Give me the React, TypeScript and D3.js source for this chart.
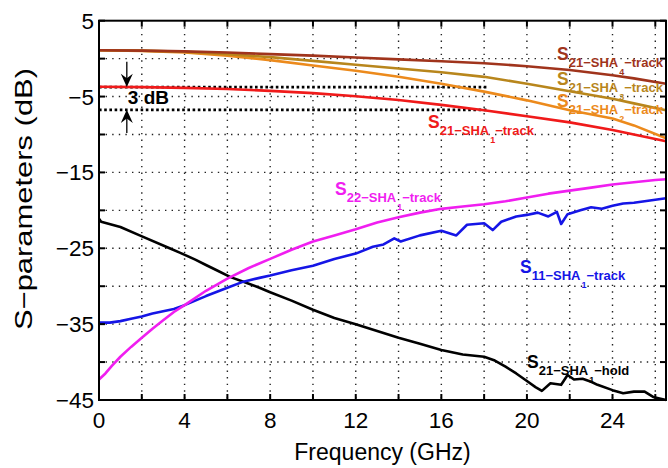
import React from "react";
import * as d3 from "d3";

// ---------- data ----------
const fUpper = [0, 2, 4, 6, 8, 10, 12, 14, 16, 18, 20, 22, 24, 25, 26.5];
const s21Sha4 = [1.1, 1.05, 0.95, 0.8, 0.6, 0.4, 0.15, -0.1, -0.35, -0.6, -1.0, -1.5, -2.2, -2.6, -3.3];
const s21Sha3 = [1.1, 1.05, 0.9, 0.6, 0.2, -0.3, -0.8, -1.3, -1.8, -2.4, -3.3, -4.3, -5.3, -5.9, -6.8];
const s21Sha2 = [1.1, 1.0, 0.8, 0.4, -0.2, -0.9, -1.6, -2.4, -3.3, -4.35, -5.5, -6.8, -7.9, -8.8, -10.5];
const s21Sha1 = [-3.7, -3.75, -3.85, -4.0, -4.25, -4.55, -4.95, -5.45, -6.1, -6.8, -7.6, -8.4, -9.4, -10.0, -10.9];

const fS22 = [0, 0.3, 0.6, 1, 1.5, 2, 2.5, 3, 3.5, 4, 5, 6, 7, 8, 9, 10, 11, 12, 13, 14, 15, 16, 17, 18, 19, 20, 21, 22, 23, 24, 25, 26, 26.5];
const s22Sha1 = [-42.3, -41.5, -40.5, -39.3, -38.0, -36.8, -35.6, -34.5, -33.4, -32.5, -30.6, -29.0, -27.6, -26.4, -25.2, -24.1, -23.3, -22.5, -21.6, -20.9, -20.3, -19.8, -19.5, -19.2, -18.8, -18.3, -17.8, -17.4, -17.0, -16.6, -16.3, -16.0, -15.9];

const fS11 = [0, 0.5, 1, 1.5, 2, 2.5, 3, 3.5, 4, 5, 6, 6.75, 7.5, 8, 9, 10, 11, 12, 12.8, 13.3, 13.8, 14.1, 15, 16, 16.7, 17.2, 18, 18.4, 18.8, 19.5, 20, 20.5, 21, 21.4, 21.6, 21.9, 22.5, 23, 23.5, 24, 24.5, 25, 25.5, 26, 26.5];
const s11Sha1 = [-34.8, -34.8, -34.6, -34.3, -34.0, -33.6, -33.3, -33.0, -32.5, -31.3, -30.2, -29.4, -28.9, -28.6, -27.9, -27.3, -26.4, -25.7, -24.8, -24.5, -23.7, -24.1, -23.3, -22.7, -23.3, -21.9, -21.7, -22.6, -21.5, -20.8, -20.6, -20.3, -20.8, -20.2, -21.8, -20.5, -20.0, -19.6, -19.8, -19.4, -19.1, -19.0, -18.8, -18.6, -18.4];

const fHold = [0, 0.1, 1, 1.9, 3.3, 3.8, 4.5, 5, 5.5, 6.15, 6.75, 7.5, 8, 9, 10, 11, 12, 14, 15, 16, 17, 18, 18.5, 19, 19.5, 20, 20.4, 20.7, 21.1, 21.6, 21.9, 22.2, 22.6, 23, 23.3, 24, 24.5, 25, 25.5, 25.9, 26.2, 26.5];
const s21Hold = [-21.1, -21.5, -22.2, -23.3, -25.0, -25.6, -26.5, -27.2, -27.9, -28.8, -29.4, -30.2, -30.8, -31.9, -33.1, -34.2, -35.0, -36.8, -37.6, -38.4, -39.0, -39.3, -39.8, -40.6, -41.5, -42.5, -43.3, -43.8, -42.8, -43.0, -41.7, -42.3, -42.2, -42.6, -43.0, -43.7, -44.1, -43.9, -43.9, -44.6, -44.8, -45.0];

const xTickLabels = [0, 4, 8, 12, 16, 20, 24];
const yTickLabels = [5, -5, -15, -25, -35, -45];
const xGrid = [2, 4, 6, 8, 10, 12, 14, 16, 18, 20, 22, 24, 26];
const yGrid = [0, -5, -10, -15, -20, -25, -30, -35, -40];
const xTicks = [0, 2, 4, 6, 8, 10, 12, 14, 16, 18, 20, 22, 24, 26];
const yTicks = [5, 0, -5, -10, -15, -20, -25, -30, -35, -40, -45];
const threeDbLevels = [-3.75, -6.75];

const W = 668;
const H = 468;

type Series = { f: number[]; v: number[]; color: string };
const series: Series[] = [
  { f: fHold, v: s21Hold, color: "#000000" },
  { f: fS11, v: s11Sha1, color: "#1515e6" },
  { f: fS22, v: s22Sha1, color: "#f01ef0" },
  { f: fUpper, v: s21Sha1, color: "#f01a1a" },
  { f: fUpper, v: s21Sha2, color: "#ec8a1c" },
  { f: fUpper, v: s21Sha3, color: "#b8861c" },
  { f: fUpper, v: s21Sha4, color: "#a0341c" },
];

function Label({ x, y, main, sub, subsub, tail, color }: any) {
  return (
    <text x={x} y={y} fill={color} fontFamily="Liberation Sans, Arial, sans-serif" fontWeight="bold">
      <tspan fontSize={17.5}>{main}</tspan>
      <tspan fontSize={13} dy={7}>{sub}</tspan>
      <tspan fontSize={9} dy={8} dx={1}>{subsub}</tspan>
      <tspan fontSize={13} dy={-8}>{tail}</tspan>
    </text>
  );
}

export default function App() {
  const x = d3.scaleLinear().domain([0, 26.5]).range([99, 666]);
  const y = d3.scaleLinear().domain([-45, 5]).range([400, 20.7]);
  const line = d3
    .line<[number, number]>()
    .x((d) => x(d[0]))
    .y((d) => y(d[1]));

  const x0 = x(0), x1 = x(26.5), y0 = y(-45), y1 = y(5);
  const font = "Liberation Sans, Arial, sans-serif";
  const ax = x(1.3);

  return (
    <svg width={W} height={H} style={{ position: "absolute", left: 0, top: 0, background: "#fff" }}>
      <rect x={0} y={0} width={W} height={H} fill="#fff" />
      {/* grid */}
      {xGrid.map((g) => (
        <line key={"gx" + g} x1={x(g)} x2={x(g)} y1={y1} y2={y0} stroke="#222" strokeWidth={1.4} strokeDasharray="1.4,5.2" />
      ))}
      {yGrid.map((g) => (
        <line key={"gy" + g} x1={x0} x2={x1} y1={y(g)} y2={y(g)} stroke="#222" strokeWidth={1.4} strokeDasharray="1.4,5.2" />
      ))}
      {/* 3 dB reference lines */}
      {threeDbLevels.map((l) => (
        <line key={"db" + l} x1={x0} x2={x(18.2)} y1={y(l)} y2={y(l)} stroke="#000" strokeWidth={2.6} strokeDasharray="2.6,2.6" />
      ))}
      {/* curves */}
      {series.map((s, i) => (
        <path
          key={i}
          d={line(s.f.map((f, j) => [f, s.v[j]] as [number, number])) || ""}
          fill="none"
          stroke={s.color}
          strokeWidth={2.6}
          strokeLinejoin="round"
        />
      ))}
      {/* arrows */}
      <line x1={ax} x2={ax} y1={y(-0.4)} y2={y(-3.2)} stroke="#000" strokeWidth={1.3} />
      <path
        d={`M${ax - 6},${y(-2.0)} L${ax},${y(-3.75)} L${ax + 6},${y(-2.0)} L${ax},${y(-2.6)} Z`}
        fill="#000"
      />
      <line x1={ax} x2={ax} y1={y(-9.8)} y2={y(-7.2)} stroke="#000" strokeWidth={1.3} />
      <path
        d={`M${ax - 6},${y(-8.5)} L${ax},${y(-6.75)} L${ax + 6},${y(-8.5)} L${ax},${y(-7.9)} Z`}
        fill="#000"
      />
      <text x={ax + 1} y={y(-6.0)} fontFamily={font} fontWeight="bold" fontSize={19}>3 dB</text>

      {/* frame */}
      <rect x={x0} y={y1} width={x1 - x0} height={y0 - y1} fill="none" stroke="#000" strokeWidth={2} />
      {/* ticks */}
      {xTicks.map((t) => (
        <g key={"xt" + t}>
          <line x1={x(t)} x2={x(t)} y1={y0} y2={y0 - 6} stroke="#000" strokeWidth={2} />
          <line x1={x(t)} x2={x(t)} y1={y1} y2={y1 + 6} stroke="#000" strokeWidth={2} />
        </g>
      ))}
      {yTicks.map((t) => (
        <g key={"yt" + t}>
          <line x1={x0} x2={x0 + 6} y1={y(t)} y2={y(t)} stroke="#000" strokeWidth={2} />
          <line x1={x1} x2={x1 - 6} y1={y(t)} y2={y(t)} stroke="#000" strokeWidth={2} />
        </g>
      ))}
      {/* tick labels */}
      {xTickLabels.map((t) => (
        <text key={"xl" + t} x={x(t)} y={y0 + 28} textAnchor="middle" fontFamily={font} fontSize={22.5}>
          {t}
        </text>
      ))}
      {yTickLabels.map((t) => (
        <text key={"yl" + t} x={x0 - 5} y={y(t) + 8} textAnchor="end" fontFamily={font} fontSize={22.5}>
          {t < 0 ? "\u2212" + Math.abs(t) : t}
        </text>
      ))}
      {/* axis titles */}
      <text x={(x0 + x1) / 2} y={460} textAnchor="middle" fontFamily={font} fontSize={23}>
        Frequency (GHz)
      </text>
      <text
        transform="translate(32,199) rotate(-90)"
        textAnchor="middle"
        fontFamily={font}
        fontSize={24}
        textLength={262}
        lengthAdjust="spacingAndGlyphs"
      >
        S−parameters (dB)
      </text>

      {/* curve labels */}
      <Label x={557} y={60} main="S" sub="21−SHA" subsub="4" tail="−track" color="#a0341c" />
      <Label x={557} y={85} main="S" sub="21−SHA" subsub="3" tail="−track" color="#b8861c" />
      <Label x={557} y={107} main="S" sub="21−SHA" subsub="2" tail="−track" color="#ec8a1c" />
      <Label x={428} y={128} main="S" sub="21−SHA" subsub="1" tail="−track" color="#f01a1a" />
      <Label x={335} y={195} main="S" sub="22−SHA" subsub="1" tail="−track" color="#f01ef0" />
      <Label x={520} y={273} main="S" sub="11−SHA" subsub="1" tail="−track" color="#1515e6" />
      <Label x={527} y={368} main="S" sub="21−SHA" subsub="1" tail="−hold" color="#000000" />
    </svg>
  );
}
